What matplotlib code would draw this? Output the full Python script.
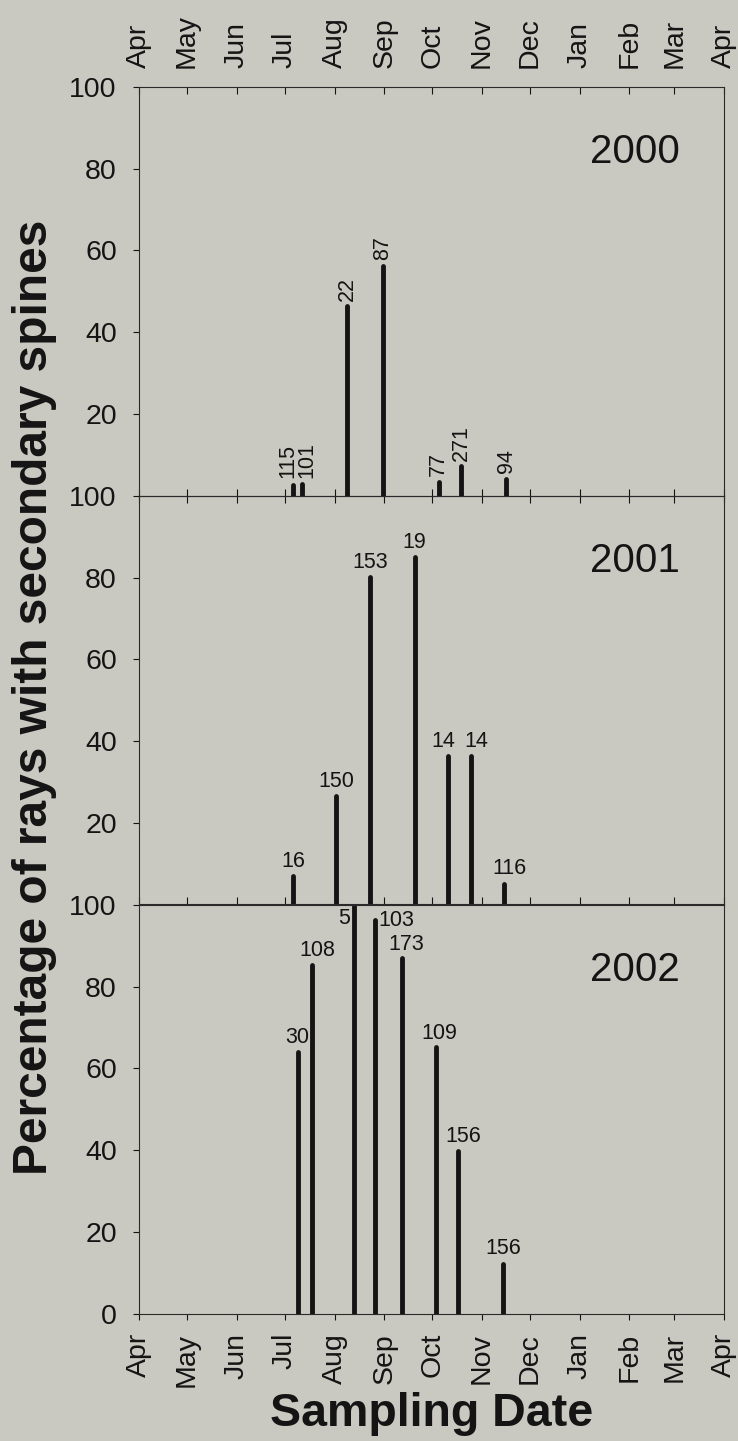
import numpy as np
import pandas as pd
import matplotlib

matplotlib.use('Agg')
import matplotlib.pyplot as plt

# sampling dates (month-day), % of rays with secondary spines, sample size
years = ['2000', '2001', '2002']

dates_2000 = ['07-06', '07-12', '08-09', '08-31', '10-05', '10-19', '11-16']
pct_2000 = [2.5, 2.7, 46.3, 56.2, 3.3, 7.2, 4.1]
n_2000 = [115, 101, 22, 87, 77, 271, 94]

dates_2001 = ['07-06', '08-02', '08-23', '09-20', '10-11', '10-25', '11-15']
pct_2001 = [6.9, 26.6, 80.1, 85.0, 36.4, 36.4, 5.1]
n_2001 = [16, 150, 153, 19, 14, 14, 116]

dates_2002 = ['07-09', '07-18', '08-13', '08-26', '09-12', '10-03', '10-17', '11-14']
pct_2002 = [64.0, 85.3, 100.0, 96.3, 87.1, 65.3, 39.8, 12.2]
n_2002 = [30, 108, 5, 103, 173, 109, 156, 156]

month_labels = ['Apr', 'May', 'Jun', 'Jul', 'Aug', 'Sep', 'Oct',
                'Nov', 'Dec', 'Jan', 'Feb', 'Mar', 'Apr']

BG = '#c9c9c1'
INK = '#141414'

plt.rcParams['font.family'] = ['Liberation Sans', 'DejaVu Sans']


def season_day(md):
    # days since 1 April of the sampling season
    return (pd.Timestamp('2001-' + md) - pd.Timestamp('2001-04-01')).days


def main():
    starts = pd.date_range('2001-04-01', '2002-04-01', freq='MS')
    month_ticks = np.array((starts - starts[0]).days)

    fig = plt.figure(figsize=(7.38, 14.41), dpi=100, facecolor=BG)

    W, H = 738.0, 1441.0
    left, right = 139 / W, 724 / W
    tops = [87, 496, 905]
    ph = 408.5

    series = [(dates_2000, pct_2000, n_2000),
              (dates_2001, pct_2001, n_2001),
              (dates_2002, pct_2002, n_2002)]

    # label nudges (points) for crowded annotations: (dx, dy, ha, va)
    nudges = {
        (0, 0): (-3.5, 4, 'center', 'bottom'),
        (0, 1): (3.0, 4, 'center', 'bottom'),
        (1, 4): (-3.5, 3, 'center', 'bottom'),
        (1, 5): (4.0, 3, 'center', 'bottom'),
        (1, 6): (3.5, 3, 'center', 'bottom'),
        (2, 1): (3.5, 3, 'center', 'bottom'),
        (2, 2): (-3.0, -10, 'right', 'center'),
        (2, 3): (3.0, 0, 'left', 'center'),
        (2, 4): (3.0, 2, 'center', 'bottom'),
        (2, 5): (3.0, 2, 'center', 'bottom'),
        (2, 6): (4.0, 3, 'center', 'bottom'),
    }

    for i, (dates, pct, n) in enumerate(series):
        ax = fig.add_axes([left, 1 - (tops[i] + ph) / H, right - left, ph / H])
        ax.set_facecolor('none')
        x = [season_day(d) for d in dates]

        bars = ax.vlines(x, 0, pct, colors=INK, linewidth=3.5)
        bars.set_capstyle('round')

        for j, (xx, yy, nn) in enumerate(zip(x, pct, n)):
            dx, dy, ha, va = nudges.get((i, j), (0, 3, 'center', 'bottom'))
            rot = 90 if i == 0 else 0
            if i == 0:
                dy += 1
            ax.annotate(str(nn), (xx, yy), xytext=(dx, dy),
                        textcoords='offset points', ha=ha, va=va,
                        rotation=rot, fontsize=15.5, color=INK)

        ax.text(0.925, 0.84, years[i], transform=ax.transAxes,
                ha='right', va='center', fontsize=29, color=INK)

        ax.set_xlim(month_ticks[0], month_ticks[-1])
        ax.set_ylim(0, 100)
        ax.set_xticks(month_ticks)
        ax.set_yticks([0, 20, 40, 60, 80, 100] if i == 2 else [20, 40, 60, 80, 100])
        ax.tick_params(axis='y', direction='out', length=4, width=0.8,
                       labelsize=20.5, pad=12, colors=INK, right=False)

        for s in ax.spines.values():
            s.set_color('#2a2a2a')
            s.set_linewidth(0.8)

        if i == 0:
            ax.tick_params(axis='x', which='both', direction='in', length=5,
                           width=0.8, top=True, bottom=True, labeltop=True,
                           labelbottom=False, labelsize=20.5, pad=14,
                           colors=INK)
            ax.set_xticklabels(month_labels, rotation=90, va='bottom')
        elif i == 1:
            ax.tick_params(axis='x', direction='in', length=5, width=0.8,
                           top=True, bottom=True, labelbottom=False,
                           colors=INK)
        else:
            ax.tick_params(axis='x', direction='out', length=4, width=0.8,
                           top=False, bottom=True, labelsize=20.5, pad=10,
                           colors=INK)
            ax.set_xticklabels(month_labels, rotation=90, va='top')

    fig.text(12 / W, 1 - 697 / H, 'Percentage of rays with secondary spines',
             rotation=90, ha='left', va='center', fontsize=34.5,
             fontweight='bold', color=INK)
    fig.text((left + right) / 2, 1 - 1426 / H, 'Sampling Date',
             ha='center', va='baseline', fontsize=33.5, fontweight='bold',
             color=INK)

    fig.savefig('out.png', dpi=100, facecolor=BG)


if __name__ == '__main__':
    main()
